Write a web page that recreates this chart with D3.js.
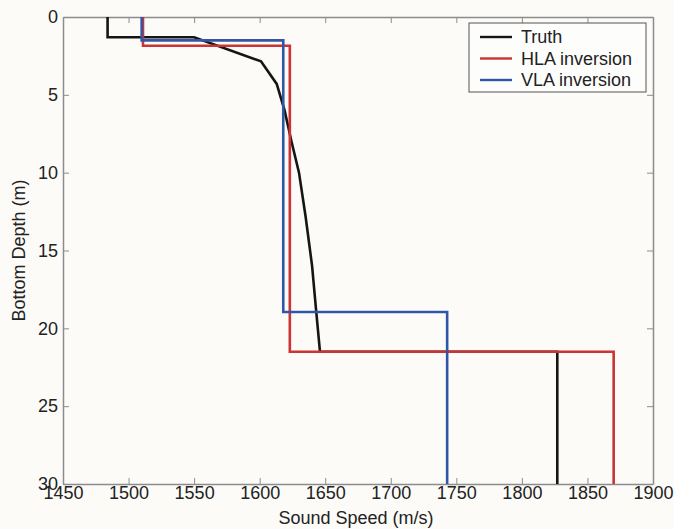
<!DOCTYPE html>
<html>
<head>
<meta charset="utf-8">
<script src="https://cdn.jsdelivr.net/npm/d3@7"></script>
<style>
  html, body { margin: 0; padding: 0; background: #fcfbf8; }
  svg { display: block; font-family: "Liberation Sans", Arial, sans-serif; }
  .axis path, .axis line { stroke: #8c8c8c; }
  .axis text { fill: #222; font-size: 18px; }
</style>
</head>
<body>
<svg id="chart" width="674" height="529"></svg>
<script>
// Data
const seriesNames = ['Truth', 'HLA inversion', 'VLA inversion'];
const seriesColors = ['#151515', '#cc3333', '#3355a8'];

const truthSpeed = [1484, 1484, 1550, 1601, 1613, 1619, 1624, 1630, 1635, 1640, 1643, 1646, 1827, 1827];
const truthDepth = [0, 1.3, 1.3, 2.85, 4.3, 6, 7.9, 10, 12.8, 16, 18.8, 21.5, 21.5, 30];

const hlaSpeed = [1511, 1511, 1623, 1623, 1870, 1870];
const hlaDepth = [0, 1.85, 1.85, 21.5, 21.5, 30];

const vlaSpeed = [1510, 1510, 1618, 1618, 1743, 1743];
const vlaDepth = [0, 1.5, 1.5, 18.95, 18.95, 30];

const xTicks = [1450, 1500, 1550, 1600, 1650, 1700, 1750, 1800, 1850, 1900];
const yTicks = [0, 5, 10, 15, 20, 25, 30];

const margin = { top: 17, right: 21, bottom: 45, left: 63 };
const width = 674 - margin.left - margin.right;
const height = 529 - margin.top - margin.bottom;

const svg = d3.select('#chart');
const g = svg.append('g').attr('transform', `translate(${margin.left},${margin.top})`);

const x = d3.scaleLinear().domain([1450, 1900]).range([0, width]);
const y = d3.scaleLinear().domain([0, 30]).range([0, height]);

g.append('defs').append('clipPath').attr('id', 'plot-clip')
    .append('rect').attr('width', width).attr('height', height);

// Axes with inward ticks, mirrored on top/right
g.append('g').attr('class', 'axis')
    .attr('transform', `translate(0,${height})`)
    .call(d3.axisBottom(x).tickValues(xTicks).tickFormat(d3.format('d'))
        .tickSizeInner(-6).tickSizeOuter(0).tickPadding(2));

g.append('g').attr('class', 'axis')
    .call(d3.axisTop(x).tickValues(xTicks).tickSizeInner(-6).tickSizeOuter(0).tickFormat(''));

g.append('g').attr('class', 'axis')
    .call(d3.axisLeft(y).tickValues(yTicks).tickSizeInner(-6).tickSizeOuter(0).tickPadding(5));

g.append('g').attr('class', 'axis')
    .attr('transform', `translate(${width},0)`)
    .call(d3.axisRight(y).tickValues(yTicks).tickSizeInner(-6).tickSizeOuter(0).tickFormat(''));

g.selectAll('.axis path').style('stroke-width', 1.5);

// Profiles
const profiles = [
    { speed: truthSpeed, depth: truthDepth },
    { speed: hlaSpeed, depth: hlaDepth },
    { speed: vlaSpeed, depth: vlaDepth }
];

const line = d3.line().x(d => x(d[0])).y(d => y(d[1]));

profiles.forEach((p, i) => {
    g.append('path')
        .datum(p.speed.map((s, k) => [s, p.depth[k]]))
        .attr('clip-path', 'url(#plot-clip)')
        .attr('fill', 'none')
        .attr('stroke', seriesColors[i])
        .attr('stroke-width', 2.6)
        .attr('stroke-linejoin', 'miter')
        .attr('d', line);
});

// Axis labels
svg.append('text')
    .attr('x', margin.left + width / 2 - 2)
    .attr('y', 524)
    .attr('text-anchor', 'middle')
    .attr('font-size', 18)
    .attr('fill', '#222')
    .text('Sound Speed (m/s)');

svg.append('text')
    .attr('transform', `translate(25,${margin.top + height / 2}) rotate(-90)`)
    .attr('text-anchor', 'middle')
    .attr('font-size', 18)
    .attr('fill', '#222')
    .text('Bottom Depth (m)');

// Legend
const legend = svg.append('g').attr('transform', 'translate(469,23)');
legend.append('rect')
    .attr('width', 177).attr('height', 69)
    .attr('fill', '#fdfdfc')
    .attr('stroke', '#555')
    .attr('stroke-width', 1);

seriesNames.forEach((name, i) => {
    const row = legend.append('g').attr('transform', `translate(0,${14 + i * 21.5})`);
    row.append('line')
        .attr('x1', 11).attr('x2', 43)
        .attr('stroke', seriesColors[i]).attr('stroke-width', 2.4);
    row.append('text')
        .attr('x', 52).attr('dy', '0.35em')
        .attr('font-size', 18)
        .attr('fill', '#222')
        .text(name);
});
</script>
</body>
</html>
